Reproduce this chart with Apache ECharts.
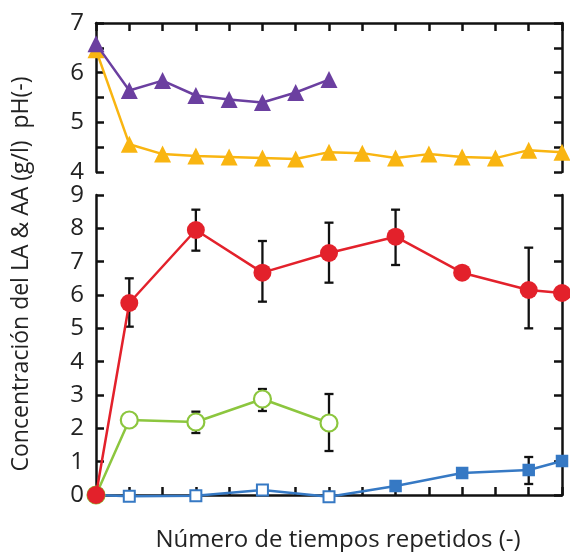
<!DOCTYPE html>
<html><head><meta charset="utf-8">
<script src="https://cdn.jsdelivr.net/npm/echarts@6/dist/echarts.min.js"></script>
<style>html,body{margin:0;padding:0;background:#fff}#c{width:570px;height:552px}</style>
</head><body><div id="c"></div>
<script>
// ---- data ----
const phX = [0,1,2,3,4,5,6,7,8,9,10,11,12,13,14];
const phPurple = [6.58,5.64,5.84,5.54,5.46,5.40,5.60,5.86];
const phYellow = [6.46,4.56,4.36,4.32,4.30,4.28,4.26,4.40,4.38,4.28,4.36,4.30,4.28,4.44,4.40];

const concX = [0,1,3,5,7,9,11,13,14];
const redLA = [0,5.76,7.95,6.67,7.26,7.75,6.67,6.15,6.06];
const redLow = [null,5.05,7.33,5.80,6.37,6.90,null,5.00,null];
const redHigh = [null,6.50,8.56,7.62,8.17,8.56,null,7.42,null];

const greenX = [0,1,3,5,7];
const greenAA = [0,2.25,2.19,2.88,2.16];
const greenLow = [null,null,1.86,2.52,1.32];
const greenHigh = [null,null,2.50,3.18,3.03];

const blueVals = [0,-0.04,-0.02,0.15,-0.05,0.27,0.66,0.75,1.02];
const blueFilled = [false,false,false,false,false,true,true,true,true];
const blueLow = [null,null,null,null,null,null,null,0.33,null];
const blueHigh = [null,null,null,null,null,null,null,1.14,null];

const phTicks = [4,5,6,7];
const concTicks = [0,1,2,3,4,5,6,7,8,9];
const xTitle = 'Número de tiempos repetidos (-)';
const yTitle = 'Concentración del LA & AA (g/l)  pH(-)';

// ---- styling ----
const FONT = 'Open Sans';
const C = {purple:'#6b3fa0', yellow:'#f9b511', red:'#e3212b', green:'#8cc63e', blue:'#3679c4'};
const axLine = {show:true, lineStyle:{color:'#111', width:2.5}};
const tick = {show:true, inside:true, length:8, lineStyle:{color:'#111', width:2.5}};

function pairs(xs, ys){ return xs.map((x,i)=>[x, ys[i]]).slice(0, ys.length); }
function errData(xs, lo, hi){
  const out=[]; xs.forEach((x,i)=>{ if(lo[i]!=null) out.push([x,lo[i],hi[i]]); }); return out;
}
function errSeries(data, xi, yi){
  return {
    type:'custom', xAxisIndex:xi, yAxisIndex:yi, z:1, clip:false, data:data,
    renderItem:function(params, api){
      const x=api.value(0), lo=api.value(1), hi=api.value(2);
      const p1=api.coord([x,lo]), p2=api.coord([x,hi]);
      const w=4.5, st={stroke:'#111', lineWidth:2.3};
      return {type:'group', children:[
        {type:'line', shape:{x1:p1[0],y1:p1[1],x2:p2[0],y2:p2[1]}, style:st},
        {type:'line', shape:{x1:p1[0]-w,y1:p1[1],x2:p1[0]+w,y2:p1[1]}, style:st},
        {type:'line', shape:{x1:p2[0]-w,y1:p2[1],x2:p2[0]+w,y2:p2[1]}, style:st}
      ]};
    }
  };
}

const grids = [
  {left:96, right:8, top:23, height:149},
  {left:96, right:8, top:195, height:300}
];
const lbl = {margin:12, fontFamily:FONT, fontSize:24, color:'#222'};

const option = {
  animation:false,
  backgroundColor:'#fff',
  grid: grids,
  xAxis: [
    {gridIndex:0, type:'value', min:0, max:14, interval:1, position:'top',
     axisLine:axLine, axisTick:tick, axisLabel:{show:false}, splitLine:{show:false}},
    {gridIndex:1, type:'value', min:0, max:14, interval:1, position:'bottom',
     axisLine:axLine, axisTick:tick, axisLabel:{show:false}, splitLine:{show:false}}
  ],
  yAxis: [
    {gridIndex:0, type:'value', min:4, max:7, interval:0.5, position:'left',
     axisLine:axLine, axisTick:tick, splitLine:{show:false},
     axisLabel:Object.assign({}, lbl, {formatter:v=> phTicks.includes(v)? String(v):''})},
    {gridIndex:0, type:'value', min:4, max:7, interval:0.5, position:'right',
     axisLine:axLine, axisTick:tick, axisLabel:{show:false}, splitLine:{show:false}},
    {gridIndex:1, type:'value', min:0, max:9, interval:1, position:'left',
     axisLine:axLine, axisTick:tick, splitLine:{show:false},
     axisLabel:Object.assign({}, lbl, {formatter:v=> concTicks.includes(v)? String(v):''})},
    {gridIndex:1, type:'value', min:0, max:9, interval:1, position:'right',
     axisLine:axLine, axisTick:tick, axisLabel:{show:false}, splitLine:{show:false}}
  ],
  series: [
    {type:'line', xAxisIndex:0, yAxisIndex:0, data:pairs(phX, phYellow), clip:false, z:2,
     symbol:'triangle', symbolSize:17, lineStyle:{color:C.yellow, width:2.5},
     itemStyle:{color:C.yellow}},
    {type:'line', xAxisIndex:0, yAxisIndex:0, data:pairs(phX, phPurple), clip:false, z:3,
     symbol:'triangle', symbolSize:17, lineStyle:{color:C.purple, width:2.5},
     itemStyle:{color:C.purple}},
    errSeries(errData(concX, blueLow, blueHigh),1,2),
    errSeries(errData(greenX, greenLow, greenHigh),1,2),
    errSeries(errData(concX, redLow, redHigh),1,2),
    {type:'line', xAxisIndex:1, yAxisIndex:2, clip:false, z:3,
     data:concX.map((x,i)=>({value:[x, blueVals[i]],
       itemStyle: blueFilled[i]? {color:C.blue, borderColor:C.blue, borderWidth:1.5}
                               : {color:'#fff', borderColor:C.blue, borderWidth:2}})),
     symbol:'rect', symbolSize:11, lineStyle:{color:C.blue, width:2.5}},
    {type:'line', xAxisIndex:1, yAxisIndex:2, clip:false, z:4,
     data:pairs(greenX, greenAA),
     symbol:'circle', symbolSize:17, lineStyle:{color:C.green, width:2.5},
     itemStyle:{color:'#fff', borderColor:C.green, borderWidth:2.2}},
    {type:'line', xAxisIndex:1, yAxisIndex:2, clip:false, z:5,
     data:pairs(concX, redLA),
     symbol:'circle', symbolSize:18, lineStyle:{color:C.red, width:2.5},
     itemStyle:{color:C.red}}
  ],
  graphic: [
    {type:'text', silent:true, x:338, y:552,
     style:{text:xTitle, fontFamily:FONT, fontSize:24, fill:'#222', align:'center', verticalAlign:'bottom'}},
    {type:'text', silent:true, rotation:Math.PI/2, x:10, y:274,
     style:{text:yTitle, fontFamily:FONT, fontSize:23, fill:'#222', align:'center', verticalAlign:'top'}}
  ]
};
const chart = echarts.init(document.getElementById('c'));
chart.setOption(option);
</script></body></html>
